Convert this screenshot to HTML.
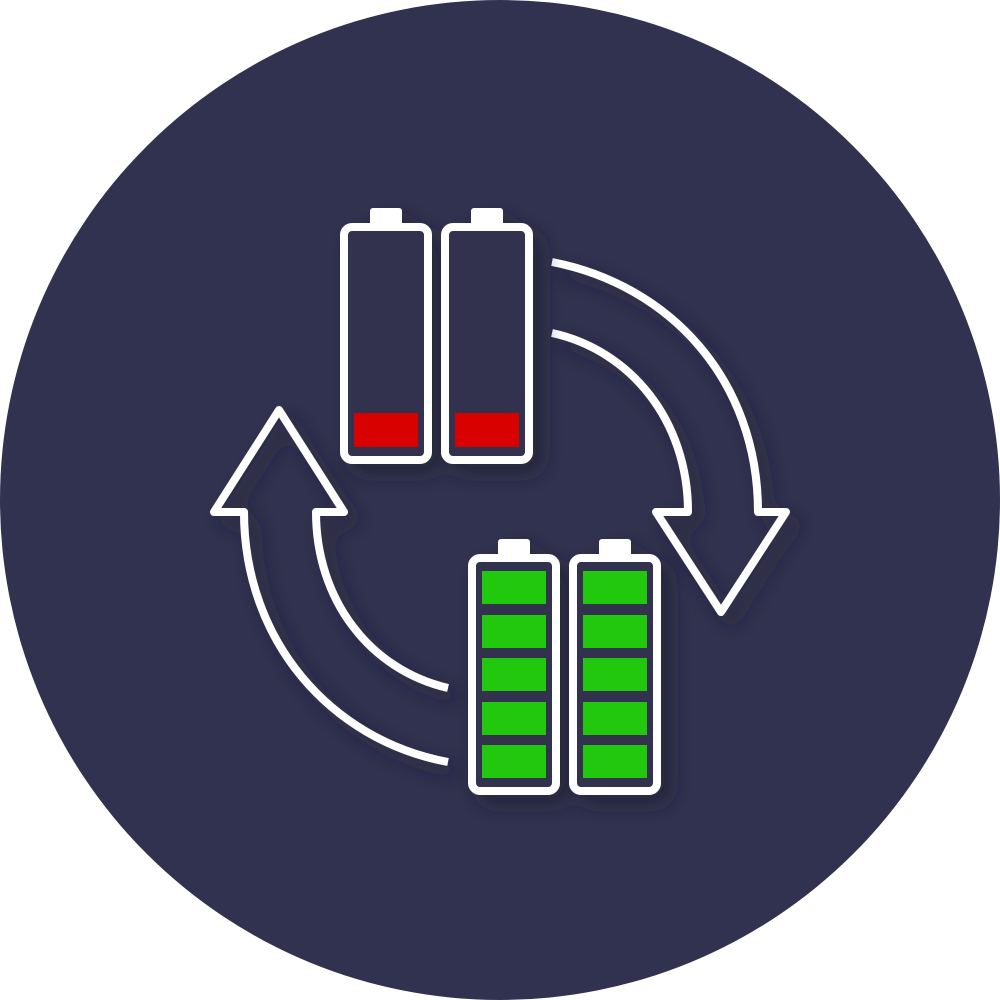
<!DOCTYPE html>
<html><head><style>html,body{margin:0;padding:0;background:#fff}svg{display:block}</style></head>
<body>
<svg width="1000" height="1000" viewBox="0 0 1000 1000" xmlns="http://www.w3.org/2000/svg">
<defs>
<filter id="sh" x="-30%" y="-30%" width="160%" height="160%">
<feDropShadow dx="10" dy="10" stdDeviation="10" flood-color="#1a1b2e" flood-opacity="0.6"/>
</filter>
</defs>
<circle cx="500" cy="500" r="500" fill="#31324f"/>
<g filter="url(#sh)" fill="none" stroke="#fff" stroke-width="8" stroke-linejoin="round">
<!-- left arrow -->
<path d="M448,762 C330,740 244,640 244,512 L214,512 L279,410 L344,512 L316,512 C316,600 370,670 448,688"/>
<!-- right arrow -->
<path d="M552,262 C670,285 758,380 758,512 L786,512 L721,612 L656,512 L688,512 C688,420 630,350 552,333"/>
</g>
<g filter="url(#sh)">
<!-- top batteries -->
<g>
<rect x="370" y="208" width="32" height="20" rx="3" fill="#fff"/>
<rect x="344" y="227" width="84" height="233" rx="8" fill="#31324f" stroke="#fff" stroke-width="8"/>
<rect x="354" y="413" width="64" height="34" fill="#d90000"/>
</g>
<g>
<rect x="471" y="208" width="32" height="20" rx="3" fill="#fff"/>
<rect x="445" y="227" width="84" height="233" rx="8" fill="#31324f" stroke="#fff" stroke-width="8"/>
<rect x="455" y="413" width="64" height="34" fill="#d90000"/>
</g>
<!-- bottom batteries -->
<g>
<rect x="498" y="539" width="32" height="20" rx="3" fill="#fff"/>
<rect x="472" y="558" width="84" height="233" rx="8" fill="#31324f" stroke="#fff" stroke-width="8"/>
<g fill="#22c80c">
<rect x="482" y="571" width="64" height="33"/>
<rect x="482" y="615" width="64" height="33"/>
<rect x="482" y="658" width="64" height="33"/>
<rect x="482" y="702" width="64" height="33"/>
<rect x="482" y="745" width="64" height="33"/>
</g>
</g>
<g>
<rect x="599" y="539" width="32" height="20" rx="3" fill="#fff"/>
<rect x="573" y="558" width="84" height="233" rx="8" fill="#31324f" stroke="#fff" stroke-width="8"/>
<g fill="#22c80c">
<rect x="583" y="571" width="64" height="33"/>
<rect x="583" y="615" width="64" height="33"/>
<rect x="583" y="658" width="64" height="33"/>
<rect x="583" y="702" width="64" height="33"/>
<rect x="583" y="745" width="64" height="33"/>
</g>
</g>
</g>
</svg>
</body></html>
